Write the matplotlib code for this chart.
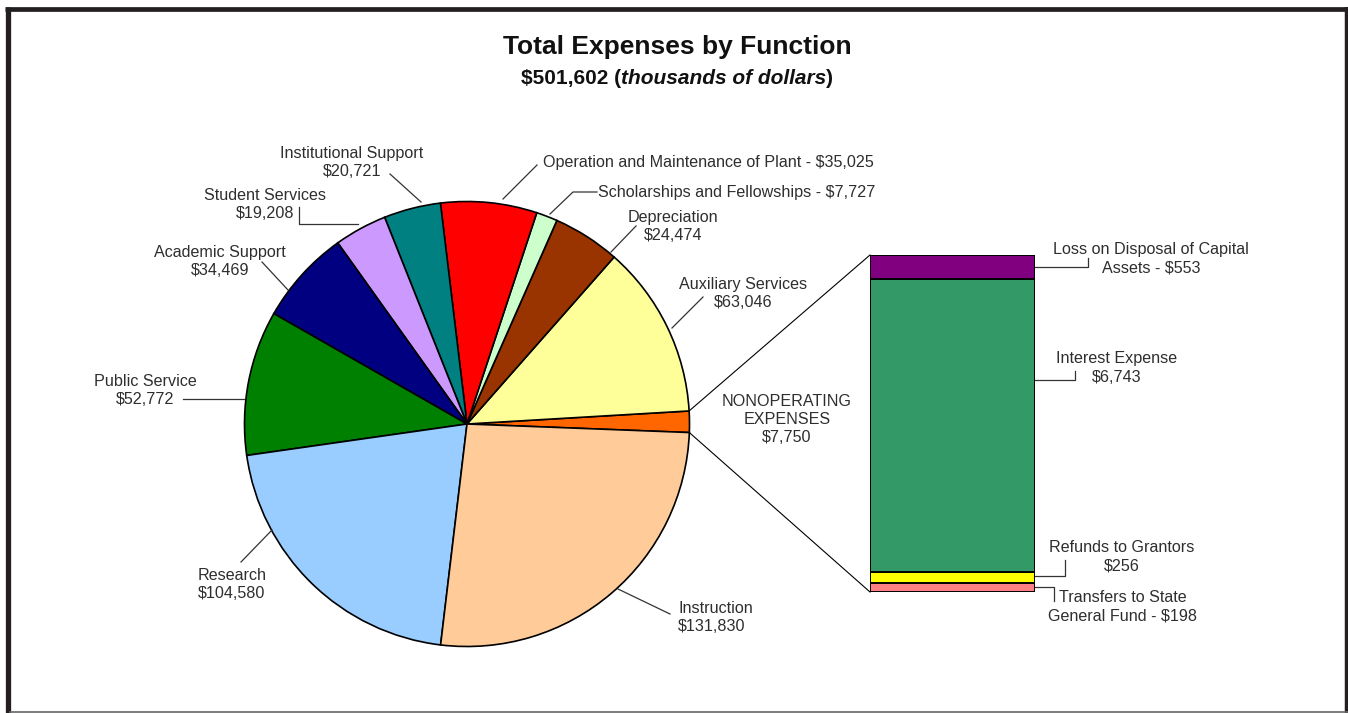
import numpy as np
import matplotlib
matplotlib.use("Agg")
import matplotlib.pyplot as plt

plt.rcParams["font.family"] = ["Liberation Sans", "DejaVu Sans"]
plt.rcParams["text.parse_math"] = False

# ==========================================================
# DATA (thousands of dollars)
# ==========================================================

pie_labels = [
    "NONOPERATING\nEXPENSES\n$7,750",
    "Auxiliary Services\n$63,046",
    "Depreciation\n$24,474",
    "Scholarships and Fellowships - $7,727",
    "Operation and Maintenance of Plant - $35,025",
    "Institutional Support\n$20,721",
    "Student Services\n$19,208",
    "Academic Support\n$34,469",
    "Public Service\n$52,772",
    "Research\n$104,580",
    "Instruction\n$131,830",
]
pie_values = [7750, 63046, 24474, 7727, 35025, 20721, 19208, 34469, 52772, 104580, 131830]
pie_colors = ["#FF6600", "#FFFF99", "#993300", "#CCFFCC", "#FF0000", "#008080",
              "#CC99FF", "#000080", "#008000", "#99CCFF", "#FFCC99"]

bar_labels = [
    "Transfers to State\nGeneral Fund - $198",
    "Refunds to Grantors\n$256",
    "Interest Expense\n$6,743",
    "Loss on Disposal of Capital\nAssets - $553",
]
bar_values = [198, 256, 6743, 553]
bar_colors = ["#FF8080", "#FFFF00", "#339966", "#800080"]

# ==========================================================
# LAYOUT (pixels)
# ==========================================================

W, H = 1348, 713
TXT = "#2e2e2e"

def P(px, py):
    return (px, H - py)

fig = plt.figure(figsize=(W / 100, H / 100), dpi=100)
ax = fig.add_axes([0, 0, 1, 1])

wedges, _ = ax.pie(
    pie_values,
    colors=pie_colors,
    startangle=-2.2,
    counterclock=True,
    center=P(467, 424),
    radius=222.5,
    wedgeprops=dict(edgecolor="black", linewidth=1.2),
)

ax.set_xlim(0, W)
ax.set_ylim(0, H)
ax.set_aspect("auto")
ax.axis("off")

# ----------------------------------------------------------
# stacked bar of nonoperating expenses
# ----------------------------------------------------------

bx0, bx1, by0, by1 = 870, 1035, 255, 592
ax2 = fig.add_axes([bx0 / W, (H - by1) / H, (bx1 - bx0) / W, (by1 - by0) / H])
bottoms = np.concatenate([[0], np.cumsum(bar_values)[:-1]])
ax2.bar(0, bar_values, bottom=bottoms, width=1.0, color=bar_colors,
        edgecolor="black", linewidth=1.4)
ax2.set_xlim(-0.5, 0.5)
ax2.set_ylim(0, sum(bar_values))
ax2.axis("off")

# connector lines from the nonoperating wedge to the bar
w0 = wedges[0]
c = np.array(w0.center)
r = w0.r
to_main = lambda xy: ax.transData.inverted().transform(ax2.transData.transform(xy))
top_corner = to_main((-0.5, sum(bar_values)))
bot_corner = to_main((-0.5, 0))
pt_top = c + r * np.array([np.cos(np.radians(w0.theta2)), np.sin(np.radians(w0.theta2))])
pt_bot = c + r * np.array([np.cos(np.radians(w0.theta1)), np.sin(np.radians(w0.theta1))])
ax.plot([pt_top[0], top_corner[0]], [pt_top[1], top_corner[1]], color="black", lw=0.8)
ax.plot([pt_bot[0], bot_corner[0]], [pt_bot[1], bot_corner[1]], color="black", lw=0.8)

# ----------------------------------------------------------
# labels
# ----------------------------------------------------------

FS = 11.6
LS = 1.25

pie_pos = [
    ((787, 419), "center"),
    ((743, 293.5), "center"),
    ((673, 226.5), "center"),
    ((598, 192), "left"),
    ((543, 162), "left"),
    ((352, 162.5), "center"),
    ((265, 204), "center"),
    ((220, 261.5), "center"),
    ((145, 390.5), "center"),
    ((198, 585), "left"),
    ((678, 617.5), "left"),
]
for lab, (xy, ha) in zip(pie_labels, pie_pos):
    ax.text(*P(*xy), lab, ha=ha, va="center", fontsize=FS, color=TXT,
            linespacing=LS)

bar_pos = [(1123, 606.5), (1122, 556.5), (1117, 368), (1151, 258.5)]
for lab, xy in zip(bar_labels, bar_pos):
    ax.text(*P(*xy), lab, ha="center", va="center", fontsize=FS, color=TXT,
            linespacing=LS)

leaders = [
    [(703, 297), (672, 328)],
    [(636, 226), (611, 252)],
    [(597, 192), (573, 192), (550, 214)],
    [(537, 165), (503, 199)],
    [(390, 174), (421, 202)],
    [(299, 207), (299, 224), (358, 224)],
    [(262, 262), (288, 290)],
    [(183, 399), (244, 399)],
    [(241, 562), (272, 530)],
    [(670, 614), (618, 589)],
    [(1035, 267), (1088, 267), (1088, 258)],
    [(1035, 380), (1075, 380), (1075, 371)],
    [(1035, 576), (1065, 576), (1065, 560)],
    [(1035, 587), (1054, 587), (1054, 601)],
]
for pts in leaders:
    xs = [p[0] for p in pts]
    ys = [H - p[1] for p in pts]
    ax.plot(xs, ys, color="#333333", lw=0.9)

# ----------------------------------------------------------
# title
# ----------------------------------------------------------

ax.text(*P(677, 47), "Total Expenses by Function", ha="center", va="center",
        fontsize=19, fontweight="bold", color="#111111")

parts = [("$501,602 (", "normal"), ("thousands of dollars", "italic"), (")", "normal")]
renderer = fig.canvas.get_renderer()
objs = []
for s, st in parts:
    t = ax.text(0, H - 78, s, ha="left", va="center", fontsize=15,
                fontweight="bold", fontstyle=st, color="#111111")
    objs.append(t)
widths = [t.get_window_extent(renderer).width for t in objs]
x = 677 - sum(widths) / 2
for t, w in zip(objs, widths):
    t.set_x(x)
    x += w

# ----------------------------------------------------------
# frame
# ----------------------------------------------------------

ax.plot([7.5, 7.5], [0, H - 7], color="#231F20", lw=3.8, solid_capstyle="butt")
ax.plot([5, W], [H - 9, H - 9], color="#231F20", lw=3.4, solid_capstyle="butt")
ax.plot([1346.5, 1346.5], [0, H - 7], color="#231F20", lw=3.2, solid_capstyle="butt")
ax.plot([10, W], [0.8, 0.8], color="#666666", lw=1.2)

fig.savefig("out.png", dpi=100)
